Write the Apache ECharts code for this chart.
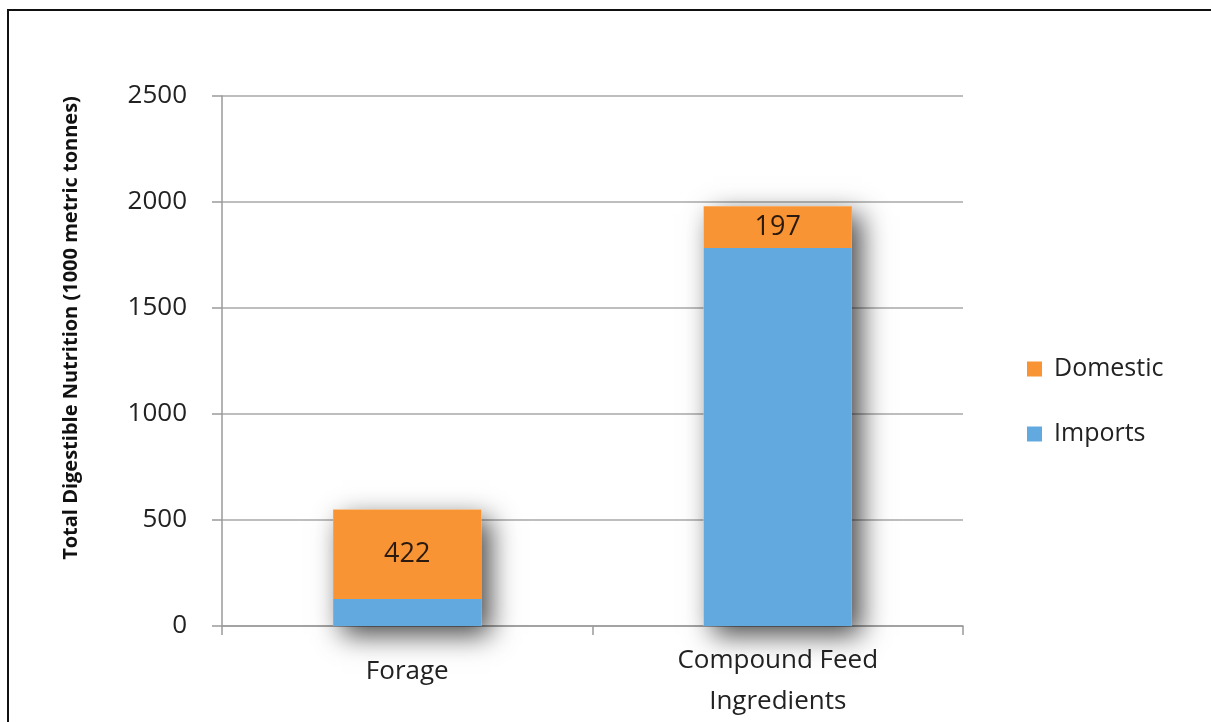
<!DOCTYPE html>
<html>
<head>
<meta charset="utf-8">
<script src="https://cdn.jsdelivr.net/npm/echarts@6/dist/echarts.min.js"></script>
<style>
  html, body { margin: 0; padding: 0; background: #fff; overflow: hidden; }
  #chart { width: 1211px; height: 722px; }
  #frame {
    position: absolute; left: 7px; top: 9px; width: 1400px; height: 900px;
    border-left: 2px solid #111; border-top: 2px solid #111; pointer-events: none;
  }
</style>
</head>
<body>
<div id="chart"></div>
<div id="frame"></div>
<script>
// Feed sources, thousand metric tonnes of total digestible nutrition
const categories = ['Forage', 'Compound Feed\nIngredients'];
const imports = [127, 1783];
const domestic = [422, 197];
const yTicks = { min: 0, max: 2500, interval: 500 };

const totals = imports.map((v, i) => v + domestic[i]);
const FONT = '"Open Sans", "DejaVu Sans", sans-serif';
const chart = echarts.init(document.getElementById('chart'));

chart.setOption({
  animation: false,
  backgroundColor: '#ffffff',
  textStyle: { fontFamily: FONT },
  grid: { left: 222, right: 248, top: 96, bottom: 96, containLabel: false, outerBoundsMode: 'none' },
  legend: {
    data: ['Domestic', 'Imports'],
    orient: 'vertical',
    left: 1027,
    top: 354,
    padding: 0,
    itemWidth: 15,
    itemHeight: 15,
    itemGap: 35,
    icon: 'rect',
    textStyle: { fontSize: 25, color: '#222', lineHeight: 30, padding: [0, 0, 0, 7] }
  },
  graphic: [{
    type: 'text',
    x: 71,
    y: 328,
    rotation: Math.PI / 2,
    style: {
      text: 'Total Digestible Nutrition (1000 metric tonnes)',
      font: 'bold 20px ' + FONT,
      fill: '#111',
      align: 'center',
      verticalAlign: 'middle'
    }
  }],
  xAxis: {
    type: 'category',
    data: categories.map((c, i) => i === 0
      ? { value: c, textStyle: { padding: [11, 0, 0, 0] } }
      : c),
    axisLine: { lineStyle: { color: '#9a9a9a', width: 1.5 } },
    axisTick: { show: true, length: 9, lineStyle: { color: '#9a9a9a', width: 1.5 } },
    axisLabel: { fontSize: 26, color: '#222', margin: 14, lineHeight: 41 }
  },
  yAxis: {
    type: 'value',
    min: yTicks.min,
    max: yTicks.max,
    interval: yTicks.interval,
    axisLine: { show: true, lineStyle: { color: '#9a9a9a', width: 1.5 } },
    axisTick: { show: true, length: 10, lineStyle: { color: '#9a9a9a', width: 1.5 } },
    axisLabel: { fontSize: 26, color: '#222', margin: 35, formatter: v => String(v) },
    splitLine: { lineStyle: { color: '#a8a8a8', width: 1.5 } }
  },
  series: [
    {
      name: 'shadow',
      type: 'bar',
      data: totals,
      barWidth: '40%',
      barGap: '-100%',
      z: 1,
      silent: true,
      itemStyle: {
        color: '#ffffff',
        shadowBlur: 26,
        shadowOffsetX: 9,
        shadowOffsetY: 9,
        shadowColor: 'rgba(0,0,0,0.72)'
      }
    },
    {
      name: 'Imports',
      type: 'bar',
      stack: 'feed',
      data: imports,
      barWidth: '40%',
      barGap: '-100%',
      z: 3,
      itemStyle: { color: '#62a9e0' }
    },
    {
      name: 'Domestic',
      type: 'bar',
      stack: 'feed',
      data: domestic,
      barWidth: '40%',
      barGap: '-100%',
      z: 3,
      itemStyle: { color: '#f89434' },
      label: {
        show: true,
        position: 'inside',
        fontSize: 27,
        color: '#2a1a10',
        fontFamily: FONT
      }
    }
  ]
});
</script>
</body>
</html>
